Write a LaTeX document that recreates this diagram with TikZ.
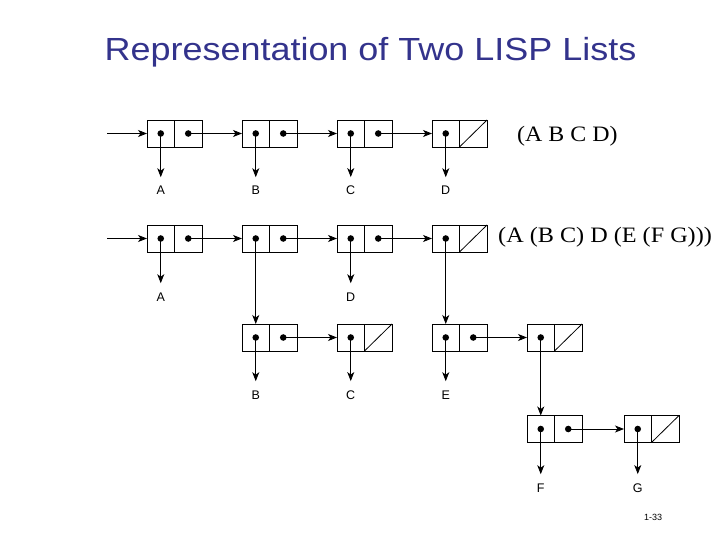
\documentclass[tikz,border=0pt]{standalone}
\usepackage{fontspec}
\usepackage{graphicx}
\setmainfont{Liberation Serif}
\setsansfont{Liberation Sans}
\usetikzlibrary{arrows.meta}
\definecolor{titleblue}{RGB}{51,51,140}
\newcommand{\mkcell}[3]{%
  \node[half] (#1a) at (#2+13.75,#3) {};
  \node[half, anchor=west] (#1d) at (#1a.east) {};
  \fill (#1a.center) circle (3.3pt);
}
\newcommand{\dotcdr}[1]{\fill (#1d.center) circle (3.3pt);}
\newcommand{\nilcdr}[1]{\draw[line width=0.8pt] (#1d.south west) -- (#1d.north east);}
\begin{document}
\begin{tikzpicture}[x=1pt,y=-1pt,
 half/.style={draw, minimum width=27.5pt, minimum height=27pt, inner sep=0pt, outer sep=0pt, line width=0.8pt},
 ptr/.style={-{Stealth[length=9pt,width=7pt,inset=2.5pt]}, line width=0.8pt},
 lbl/.style={font=\sffamily\fontsize{12.5}{12.5}\selectfont, inner sep=0pt, anchor=base},
 down/.style={ptr, shorten >=9pt},
 listtxt/.style={font=\fontsize{22}{22}\selectfont, inner sep=0pt, anchor=base west}
]
\useasboundingbox (0,0) rectangle (720,540);
\node[font=\sffamily\fontsize{32}{32}\selectfont, text=titleblue, inner sep=0pt, anchor=base] (title) at (370.5,61) {\scalebox{1.124}[1]{Representation of Two LISP Lists}};

% row 1
\mkcell{c11}{147}{133.5}\dotcdr{c11}
\mkcell{c12}{242}{133.5}\dotcdr{c12}
\mkcell{c13}{337}{133.5}\dotcdr{c13}
\mkcell{c14}{432}{133.5}\nilcdr{c14}
\coordinate (s1) at (107,133.5);
\node[lbl] (l1a) at (160.75,195) {A};
\node[lbl] (l1b) at (255.75,195) {B};
\node[lbl] (l1c) at (350.75,195) {C};
\node[lbl] (l1d) at (445.75,195) {D};
\draw[ptr] (s1) -- (c11a.west);
\draw[ptr] (c11d.center) -- (c12a.west);
\draw[ptr] (c12d.center) -- (c13a.west);
\draw[ptr] (c13d.center) -- (c14a.west);
\draw[down] (c11a.center) -- (l1a.north);
\draw[down] (c12a.center) -- (l1b.north);
\draw[down] (c13a.center) -- (l1c.north);
\draw[down] (c14a.center) -- (l1d.north);
\node[listtxt] (t1) at (517,142) {\scalebox{1.087}[1]{(A B C D)}};

% row 2
\mkcell{c21}{147}{238.5}\dotcdr{c21}
\mkcell{c22}{242}{238.5}\dotcdr{c22}
\mkcell{c23}{337}{238.5}\dotcdr{c23}
\mkcell{c24}{432}{238.5}\nilcdr{c24}
\coordinate (s2) at (107,238.5);
\node[lbl] (l2a) at (160.75,301) {A};
\node[lbl] (l2d) at (350.75,301) {D};
\draw[ptr] (s2) -- (c21a.west);
\draw[ptr] (c21d.center) -- (c22a.west);
\draw[ptr] (c22d.center) -- (c23a.west);
\draw[ptr] (c23d.center) -- (c24a.west);
\draw[down] (c21a.center) -- (l2a.north);
\draw[down] (c23a.center) -- (l2d.north);
\node[listtxt] (t2) at (498,243) {\scalebox{1.10}[1]{(A (B C) D (E (F G)))}};

% row 3
\mkcell{c31}{242}{337.5}\dotcdr{c31}
\mkcell{c32}{337}{337.5}\nilcdr{c32}
\mkcell{c33}{432}{337.5}\dotcdr{c33}
\mkcell{c34}{527}{337.5}\nilcdr{c34}
\node[lbl] (l3b) at (255.75,399) {B};
\node[lbl] (l3c) at (350.75,399) {C};
\node[lbl] (l3e) at (445.75,399) {E};
\draw[ptr] (c22a.center) -- (c31a.north);
\draw[ptr] (c24a.center) -- (c33a.north);
\draw[ptr] (c31d.center) -- (c32a.west);
\draw[ptr] (c33d.center) -- (c34a.west);
\draw[down] (c31a.center) -- (l3b.north);
\draw[down] (c32a.center) -- (l3c.north);
\draw[down] (c33a.center) -- (l3e.north);

% row 4
\mkcell{c41}{527}{429}\dotcdr{c41}
\mkcell{c42}{624}{429}\nilcdr{c42}
\node[lbl] (l4f) at (540.75,492) {F};
\node[lbl] (l4g) at (637.75,492) {G};
\draw[ptr] (c34a.center) -- (c41a.north);
\draw[ptr] (c41d.center) -- (c42a.west);
\draw[down] (c41a.center) -- (l4f.north);
\draw[down] (c42a.center) -- (l4g.north);

\node[font=\sffamily\fontsize{9}{9}\selectfont, inner sep=0pt] (pg) at (653,517) {1-33};
\end{tikzpicture}
\end{document}
